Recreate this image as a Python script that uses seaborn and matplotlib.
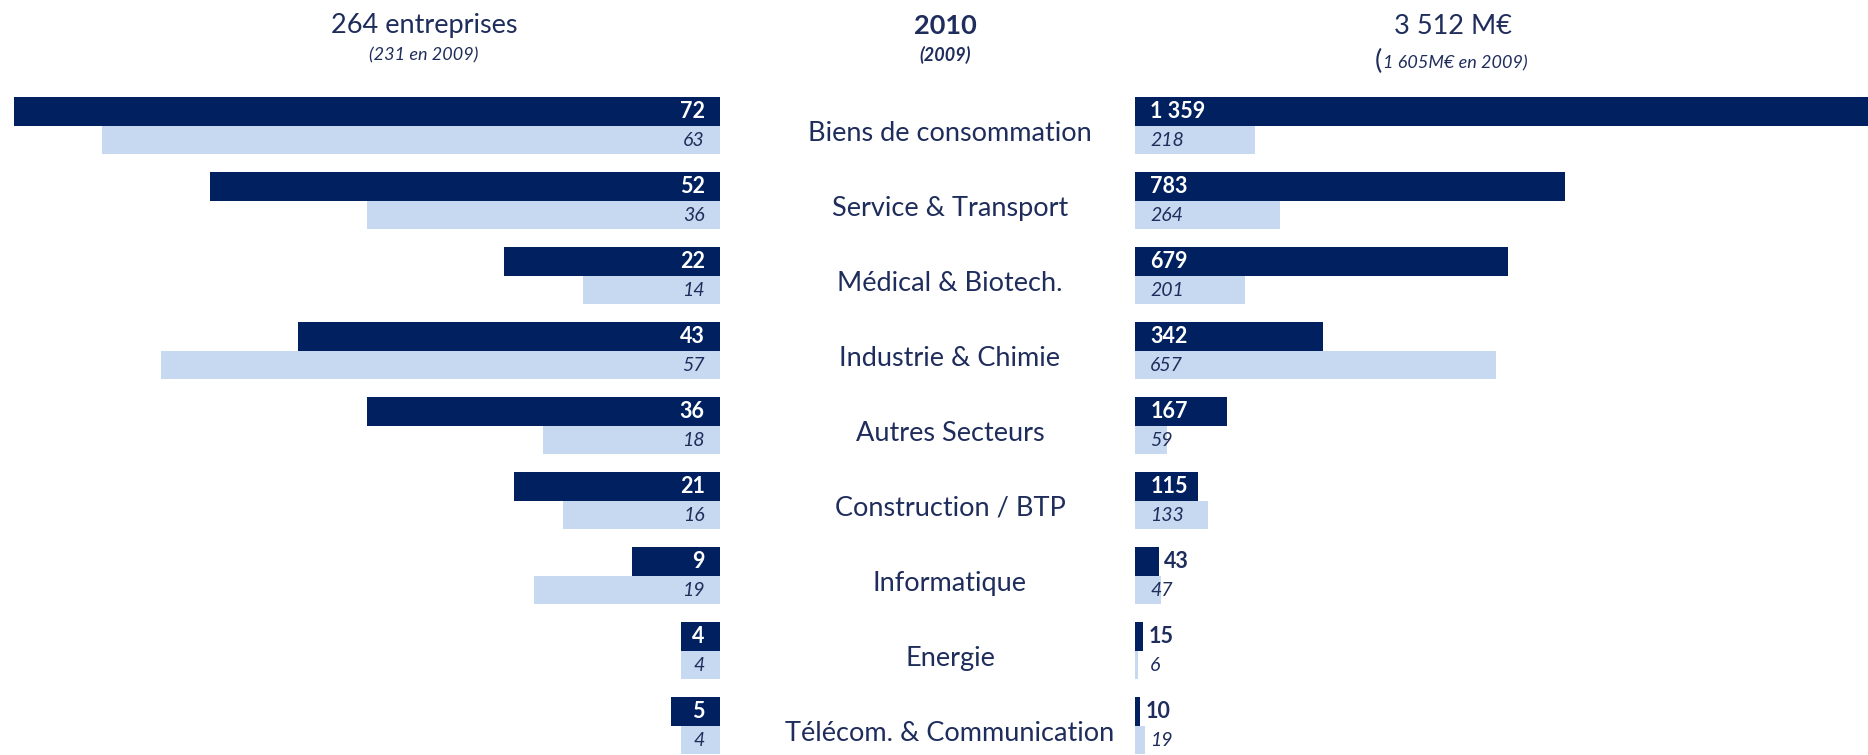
import pandas as pd
import matplotlib.pyplot as plt
import matplotlib.transforms as mtransforms
import seaborn as sns

sns.set_style("white")
plt.rcParams['font.family'] = ['Lato', 'DejaVu Sans']

# === Data ===
sectors = ['Biens de consommation', 'Service & Transport', 'Médical & Biotech.',
           'Industrie & Chimie', 'Autres Secteurs', 'Construction / BTP',
           'Informatique', 'Energie', 'Télécom. & Communication']
companies_2010 = [72, 52, 22, 43, 36, 21, 9, 4, 5]
companies_2009 = [63, 36, 14, 57, 18, 16, 19, 4, 4]
amount_2010 = [1359, 783, 679, 342, 167, 115, 43, 15, 10]
amount_2009 = [218, 264, 201, 657, 59, 133, 47, 6, 19]
years = ['2010', '2009']

left_df = pd.DataFrame({
    'sector': sectors * 2,
    'year': ['2010'] * 9 + ['2009'] * 9,
    'value': companies_2010 + companies_2009,
})
right_df = pd.DataFrame({
    'sector': sectors * 2,
    'year': ['2010'] * 9 + ['2009'] * 9,
    'value': amount_2010 + amount_2009,
})

DARK = '#002060'
LIGHT = '#C6D9F1'
TEXT = '#1F2D5C'
palette = {'2010': DARK, '2009': LIGHT}


def fmt(v):
    return f"{v:,}".replace(',', ' ')


fig = plt.figure(figsize=(18.68, 7.55), dpi=100)
ax_l = fig.add_axes([0, 0, 720 / 1868, 1])
ax_r = fig.add_axes([1135 / 1868, 0, (1868 - 1135) / 1868, 1])

for ax, df in [(ax_l, left_df), (ax_r, right_df)]:
    sns.barplot(data=df, x='value', y='sector', hue='year', hue_order=years,
                palette=palette, orient='h', width=0.76, ax=ax,
                legend=False, saturation=1, linewidth=0)
    ax.set_ylim(8.39, -1.68)
    ax.axis('off')

ax_l.set_xlim(73.4, 0)
ax_r.set_xlim(0, 1335)

# --- value labels, left panel ---
for i in range(len(sectors)):
    ax_l.annotate(str(companies_2010[i]), xy=(0, i - 0.19), xytext=(-11, 0),
                  textcoords='offset points', ha='right', va='center',
                  color='white', fontsize=15.5, fontweight='bold')
    ax_l.annotate(str(companies_2009[i]), xy=(0, i + 0.19), xytext=(-11, 0),
                  textcoords='offset points', ha='right', va='center',
                  color=TEXT, fontsize=14, fontstyle='italic')

# --- value labels, right panel ---
for i in range(len(sectors)):
    v = amount_2010[i]
    if v >= 100:
        ax_r.annotate(fmt(v), xy=(0, i - 0.19), xytext=(11, 0),
                      textcoords='offset points', ha='left', va='center',
                      color='white', fontsize=15.5, fontweight='bold')
    else:
        ax_r.annotate(fmt(v), xy=(v, i - 0.19), xytext=(4, 0),
                      textcoords='offset points', ha='left', va='center',
                      color=TEXT, fontsize=15.5, fontweight='bold')
    ax_r.annotate(fmt(amount_2009[i]), xy=(0, i + 0.19), xytext=(11, 0),
                  textcoords='offset points', ha='left', va='center',
                  color=TEXT, fontsize=14, fontstyle='italic')

# --- sector names in the middle ---
trans = mtransforms.blended_transform_factory(fig.transFigure, ax_l.transData)
for i, name in enumerate(sectors):
    ax_l.text(950 / 1868, i + 0.1, name, transform=trans, ha='center',
              va='center', color=TEXT, fontsize=19.5, clip_on=False)

# --- headers ---
fig.text(424 / 1868, 1 - 26 / 755, '264 entreprises', ha='center', va='center',
         color=TEXT, fontsize=19.5)
fig.text(424 / 1868, 1 - 55 / 755, '(231 en 2009)', ha='center', va='center',
         color=TEXT, fontsize=13, fontstyle='italic')
fig.text(945 / 1868, 1 - 26 / 755, '2010', ha='center', va='center',
         color=TEXT, fontsize=19.5, fontweight='bold')
fig.text(945 / 1868, 1 - 55 / 755, '(2009)', ha='center', va='center',
         color=TEXT, fontsize=13, fontweight='bold', fontstyle='italic')
fig.text(1453 / 1868, 1 - 26 / 755, '3 512 M€', ha='center', va='center',
         color=TEXT, fontsize=19.5)
fig.text(1375 / 1868, 1 - 61 / 755, '(', ha='left', va='center',
         color=TEXT, fontsize=19.5)
fig.text(1383 / 1868, 1 - 63 / 755, '1 605M€ en 2009)', ha='left',
         va='center', color=TEXT, fontsize=13, fontstyle='italic')

fig.savefig('out.png', dpi=100)
